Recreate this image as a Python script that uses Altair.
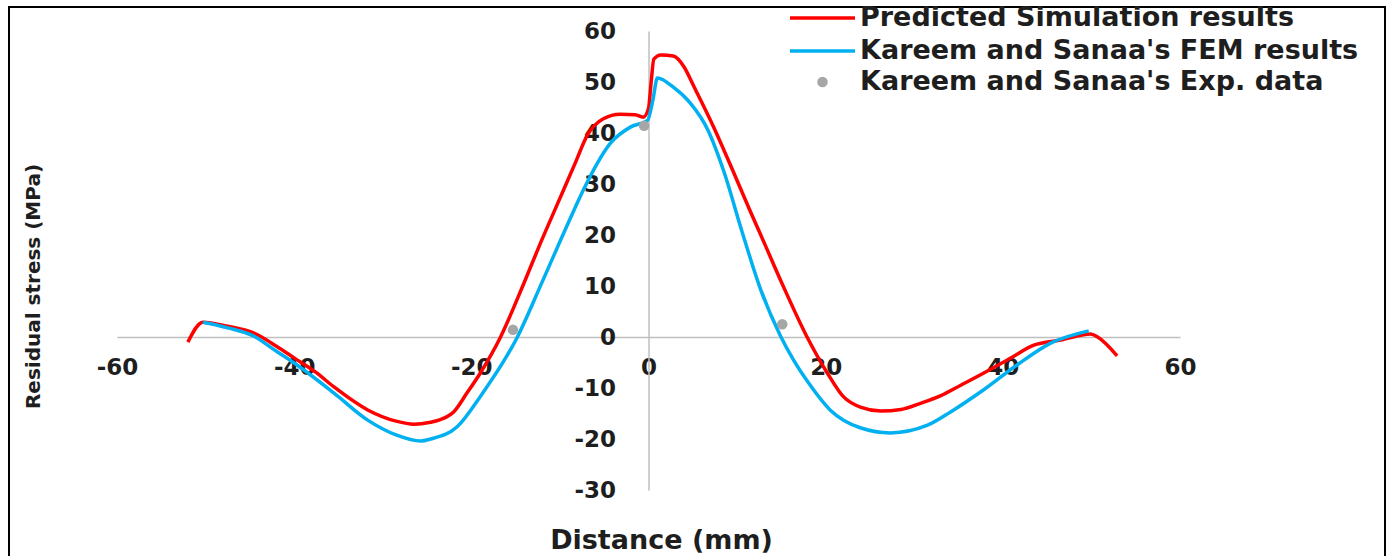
import altair as alt
import pandas as pd

# ---------------- data ----------------
series_names = [
    "Predicted Simulation results",
    "Kareem and Sanaa's FEM results",
    "Kareem and Sanaa's Exp. data",
]

pred_x = [-52.0, -50.3, -47.5, -44.6, -42.0, -40.0, -37.5, -35.5, -31.7, -28.5,
          -26.5, -24.6, -23.5, -22.0, -20.5, -19.0, -16.7, -14.1, -12.2, -10.2,
          -8.3, -6.9, -5.1, -3.2, -1.5, -0.6, 0.0, 0.3, 0.6,
          1.4, 2.8, 4.0, 5.1, 7.4, 9.6, 11.5, 12.6, 15.2, 17.9,
          20.2, 22.0, 24.0, 26.2, 28.5, 30.7, 33.0, 35.2, 37.8, 40.9,
          43.5, 46.5, 49.9, 50.7, 52.9]
pred_y = [-1.0, 2.9, 2.1, 0.8, -1.8, -4.1, -7.0, -9.8, -14.3, -16.5,
          -17.1, -16.7, -16.2, -14.7, -11.0, -7.1, 0.0, 10.4, 18.4, 26.4,
          34.0, 39.6, 42.8, 43.7, 43.6, 43.1, 44.8, 50.0, 54.5,
          55.3, 55.1, 53.0, 49.2, 41.0, 32.3, 24.6, 20.3, 10.0, 0.0,
          -7.1, -11.7, -13.8, -14.5, -14.2, -13.0, -11.5, -9.5, -7.1, -4.1,
          -1.6, -0.6, 0.6, 0.0, -3.7]

fem_x = [-50.3, -47.5, -44.6, -42.0, -40.0, -35.5, -31.7, -28.5, -25.7, -24.6,
         -21.6, -19.0, -14.8, -11.9, -9.0, -7.3, -5.8, -4.3, -2.0,
         -0.1, 0.5, 1.0, 2.8, 4.7, 6.7, 8.5, 10.5, 12.6, 14.9,
         16.4, 17.9, 20.5, 23.9, 27.3, 31.5, 34.1, 37.8, 41.6, 45.4, 49.7]
fem_y = [2.9, 1.8, 0.2, -2.8, -5.1, -11.0, -16.3, -19.2, -20.4, -20.0,
         -17.6, -11.7, 0.0, 11.2, 22.6, 29.0, 34.0, 38.0, 41.2,
         42.5, 46.5, 50.8, 49.0, 45.9, 40.6, 32.5, 21.0, 9.6, 0.2,
         -4.6, -8.6, -14.3, -17.8, -18.8, -17.3, -14.7, -10.4, -5.5, -1.2, 1.2]

exp_x = [-15.3, -0.5, 15.1]
exp_y = [1.4, 41.4, 2.5]

x_ticks = [-60, -40, -20, 0, 20, 40, 60]
y_ticks = [-30, -20, -10, 0, 10, 20, 30, 40, 50, 60]

# ---------------- tables ----------------
lines_df = pd.concat([
    pd.DataFrame({"x": pred_x, "y": pred_y, "series": series_names[0],
                  "i": range(len(pred_x))}),
    pd.DataFrame({"x": fem_x, "y": fem_y, "series": series_names[1],
                  "i": range(len(fem_x))}),
], ignore_index=True)
exp_df = pd.DataFrame({"x": exp_x, "y": exp_y, "series": series_names[2]})

W, H = 1063, 459
FONT = "DejaVu Sans"
TXT = "#1e1e1e"
PLAIN_MINUS = "'' + datum.value"

x_enc = alt.X("x:Q",
              scale=alt.Scale(domain=[-60, 60], nice=False, zero=False),
              axis=alt.Axis(values=x_ticks, offset=-153, grid=False, ticks=False,
                            tickSize=0, domainColor="#bfbfbf", domainWidth=1.5,
                            labelExpr=PLAIN_MINUS,
                            labelFont=FONT, labelFontWeight="bold", labelFontSize=23,
                            labelColor=TXT, labelBaseline="middle", labelPadding=30,
                            labelFlush=False, labelOverlap=False, labelBound=False,
                            title="Distance (mm)", titleFont=FONT, titleFontSize=27,
                            titleFontWeight="bold", titleColor=TXT,
                            titleX=544, titleY=203, titleAlign="center",
                            titleBaseline="middle", titleAngle=0))
y_enc = alt.Y("y:Q",
              scale=alt.Scale(domain=[-30, 60], nice=False, zero=False),
              axis=alt.Axis(values=y_ticks, offset=-531.5, grid=False, ticks=False,
                            tickSize=0, domainColor="#bfbfbf", domainWidth=1.5,
                            labelExpr=PLAIN_MINUS,
                            labelFont=FONT, labelFontWeight="bold", labelFontSize=23,
                            labelColor=TXT, labelPadding=33,
                            labelFlush=False, labelOverlap=False, labelBound=False,
                            title="Residual stress (MPa)", titleFont=FONT,
                            titleFontSize=20, titleFontWeight="bold", titleColor=TXT,
                            titleX=-615, titleY=255, titleAngle=270,
                            titleAlign="center", titleBaseline="middle"))

lines = alt.Chart(lines_df).mark_line(strokeWidth=3.5, interpolate="monotone").encode(
    x=x_enc,
    y=y_enc,
    order="i:Q",
    stroke=alt.Stroke("series:N",
                      scale=alt.Scale(domain=series_names[:2],
                                      range=["#ff0000", "#00b0f0"]),
                      legend=alt.Legend(title=None, orient="none",
                                        legendX=671, legendY=-23,
                                        symbolType="stroke", symbolSize=4225,
                                        symbolStrokeWidth=3.5, clipHeight=20,
                                        labelFont=FONT, labelFontWeight="bold",
                                        labelFontSize=27, labelColor=TXT,
                                        labelOffset=3, labelLimit=800,
                                        rowPadding=6, padding=0)),
)

points = alt.Chart(exp_df).mark_circle(size=110, opacity=1).encode(
    x="x:Q",
    y="y:Q",
    fill=alt.Fill("series:N",
                  scale=alt.Scale(domain=series_names[2:], range=["#a6a6a6"]),
                  legend=alt.Legend(title=None, orient="none",
                                    legendX=692, legendY=41,
                                    symbolType="circle", symbolSize=110,
                                    symbolStrokeWidth=0, clipHeight=20,
                                    labelFont=FONT, labelFontWeight="bold",
                                    labelFontSize=27, labelColor=TXT,
                                    labelOffset=24, labelLimit=800, padding=0)),
)

frame = alt.Chart(alt.Data(values=[{}])).mark_rect(
    fill="transparent", stroke="black", strokeWidth=2
).encode(
    x=alt.value(-108), x2=alt.value(1268), y=alt.value(-24), y2=alt.value(540)
)

chart = alt.layer(frame, lines, points).properties(
    width=W, height=H,
    autosize=alt.AutoSizeParams(type="none"),
    padding={"left": 117, "top": 31, "right": 209, "bottom": 66},
    background="white",
).configure_view(stroke=None)

chart.save("out.html", embed_options={"renderer": "svg", "actions": False})
